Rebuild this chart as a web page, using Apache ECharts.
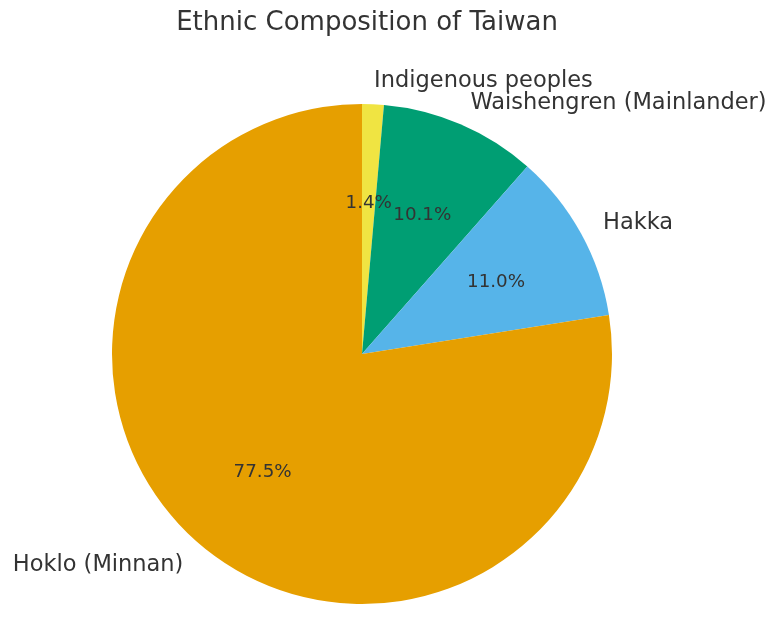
<!DOCTYPE html>
<html>
<head>
<meta charset="utf-8">
<script src="https://cdn.jsdelivr.net/npm/echarts@6/dist/echarts.min.js"></script>
<style>html,body{margin:0;padding:0;background:#fff;}#c{width:780px;height:623px;}</style>
</head>
<body>
<div id="c"></div>
<script>
var categories = ['Indigenous peoples', 'Waishengren (Mainlander)', 'Hakka', 'Hoklo (Minnan)'];
var values = [1.4, 10.1, 11.0, 77.5];
var colors = ['#f0e442', '#009e73', '#56b4e9', '#e69f00'];
var titleText = 'Ethnic Composition of Taiwan';

var font = '"DejaVu Sans", sans-serif';
var chart = echarts.init(document.getElementById('c'), null, {renderer: 'canvas'});
var total = values.reduce(function (a, b) { return a + b; }, 0);

var mainData = categories.map(function (c, i) {
  return { name: c, value: values[i], itemStyle: { color: colors[i] } };
});
var pctData = categories.map(function (c, i) {
  return { name: c, value: values[i] };
});

chart.setOption({
  animation: false,
  backgroundColor: '#ffffff',
  title: {
    text: titleText,
    left: 362,
    textAlign: 'center',
    top: 5,
    textStyle: { fontFamily: font, fontSize: 26, fontWeight: 'normal', color: '#333333' }
  },
  series: [
    {
      type: 'pie',
      center: [362, 354],
      radius: [0, 250],
      startAngle: 90,
      clockwise: true,
      avoidLabelOverlap: false,
      labelLayout: { hideOverlap: false },
      data: mainData,
      itemStyle: { borderWidth: 0 },
      label: {
        show: true,
        position: 'outside',
        formatter: '{b}',
        fontFamily: font,
        fontSize: 22.5,
        color: '#333333',
        distanceToLabelLine: 0,
        offset: [0, 2]
      },
      labelLine: { show: false, length: 25, length2: 0 },
      emphasis: { disabled: true },
      silent: true
    },
    {
      type: 'pie',
      center: [362, 354],
      radius: [50, 250],
      startAngle: 90,
      clockwise: true,
      avoidLabelOverlap: false,
      labelLayout: { hideOverlap: false },
      data: pctData,
      itemStyle: { color: 'rgba(0,0,0,0)', borderWidth: 0 },
      label: {
        show: true,
        position: 'inside',
        formatter: function (p) { return (p.value / total * 100).toFixed(1) + '%'; },
        fontFamily: font,
        fontSize: 18.3,
        color: '#333333',
        offset: [0, 2]
      },
      labelLine: { show: false },
      emphasis: { disabled: true },
      silent: true
    }
  ]
});
</script>
</body>
</html>
